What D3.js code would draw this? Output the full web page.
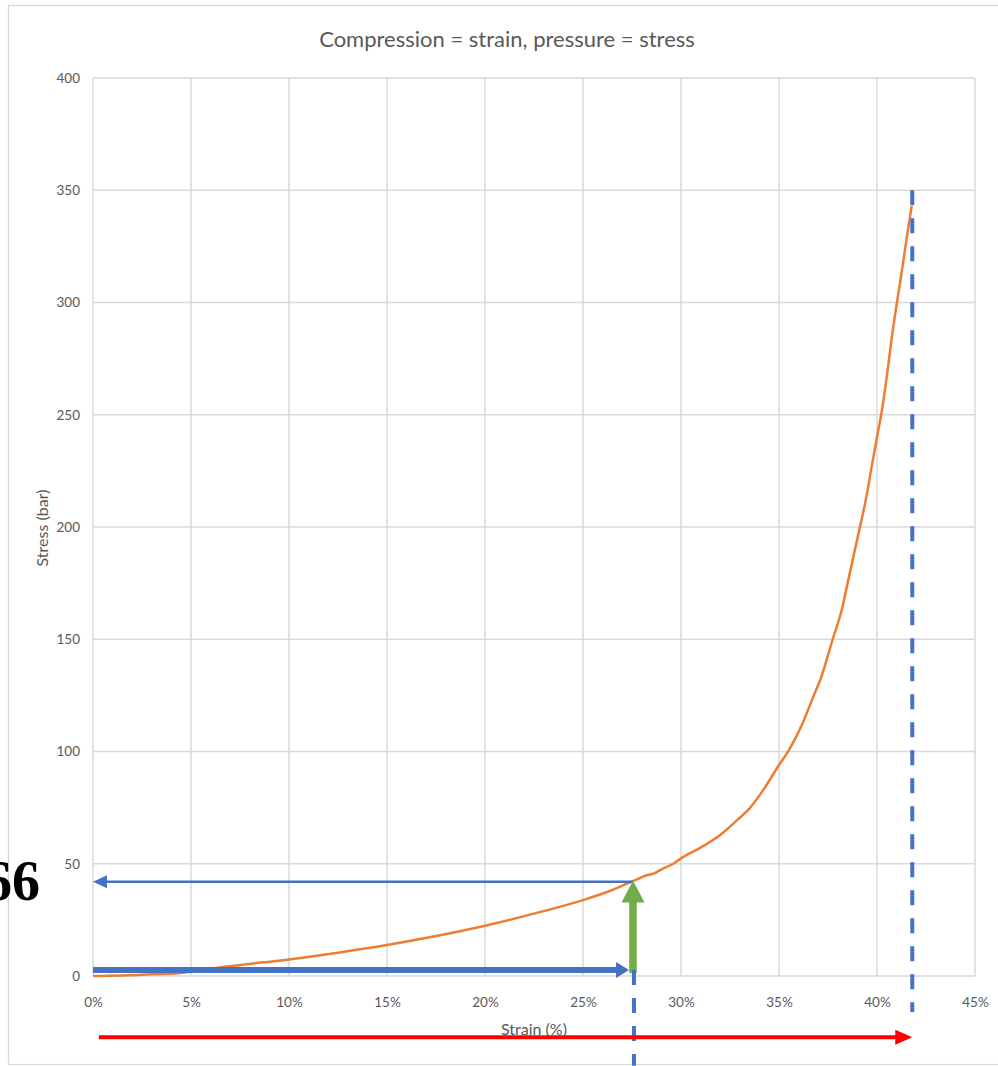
<!DOCTYPE html>
<html>
<head>
<meta charset="utf-8">
<script src="https://cdn.jsdelivr.net/npm/d3@7"></script>
<style>
  html, body { margin: 0; padding: 0; background: #fff; }
  svg { display: block; }
</style>
</head>
<body>
<svg id="chart" width="998" height="1066"></svg>
<script>
// ---------- data ----------
const titleText = "Compression = strain, pressure = stress";
const xAxisTitle = "Strain (%)";
const yAxisTitle = "Stress (bar)";
const sideLabel = "66";

const xTicks = [0, 5, 10, 15, 20, 25, 30, 35, 40, 45];
const yTicks = [0, 50, 100, 150, 200, 250, 300, 350, 400];

// curve: strain (%) and stress (bar)
const strain = [0, 2.5, 4.6, 6.8, 10, 12.5, 15, 17.5, 20, 22.5, 25, 26.5, 27.6, 28.3, 28.6, 29.0, 29.6, 30, 31, 32, 33, 33.5, 34.2, 35, 35.5, 36.2, 36.75, 37.13, 37.74, 38.2, 38.5, 38.8, 39.13, 39.45, 39.73, 40.0, 40.25, 40.5, 40.75, 41.0, 41.25, 41.52, 41.77];
const stress = [0, 0.6, 1.5, 4.2, 7.4, 10.4, 13.8, 17.8, 22.4, 27.8, 33.8, 38.3, 42.5, 45, 45.6, 47.5, 50, 52.4, 57.2, 62.8, 70.5, 74.7, 82.9, 94, 100.5, 112.5, 124.4, 132.5, 150, 163, 175, 187, 200, 213, 227, 240, 252, 267, 284, 299, 313, 329, 343];

// annotations (data units: strain %, stress bar)
const readStrain = 27.55;
const readStress = 42;
const thickArrowStress = 2.7;
const thickArrowEnd = 27.35;
const greenArrowFrom = 1.3;
const greenArrowTo = 42.5;
const dash1 = { x: 27.6, from: 2.7, to: -40 };
const dash2 = { x: 41.8, from: 350, to: -16 };
const redArrow = { y: -27.3, from: 0.3, to: 41.8 };

// ---------- drawing ----------
const svg = d3.select("#chart");
const x = d3.scaleLinear().domain([0, 45]).range([93, 975]);
const y = d3.scaleLinear().domain([0, 400]).range([976, 78]);

const grey = "#595959";
const gridCol = "#d9d9d9";
const fontFam = "Lato, 'Open Sans', sans-serif";

// chart area border
svg.append("rect")
  .attr("x", 8.5).attr("y", 5.5)
  .attr("width", 1000).attr("height", 1059)
  .attr("fill", "none").attr("stroke", gridCol).attr("stroke-width", 1.3);

// gridlines
svg.append("g").selectAll("line").data(yTicks).join("line")
  .attr("x1", x(0)).attr("x2", x(45))
  .attr("y1", d => y(d)).attr("y2", d => y(d))
  .attr("stroke", gridCol).attr("stroke-width", 1.5);
svg.append("g").selectAll("line").data(xTicks).join("line")
  .attr("x1", d => x(d)).attr("x2", d => x(d))
  .attr("y1", y(0)).attr("y2", y(400))
  .attr("stroke", gridCol).attr("stroke-width", 1.5);

// axes (labels only)
const yAxis = svg.append("g")
  .attr("transform", `translate(${x(0)},0)`)
  .call(d3.axisLeft(y).tickValues(yTicks).tickSize(0).tickPadding(13));
const xAxis = svg.append("g")
  .attr("transform", `translate(0,${y(0)})`)
  .call(d3.axisBottom(x).tickValues(xTicks).tickSize(0).tickPadding(21).tickFormat(d => d + "%"));
[yAxis, xAxis].forEach(g => {
  g.select(".domain").remove();
  g.selectAll("text").attr("fill", grey).attr("font-size", 13.5).attr("font-family", fontFam);
});

// title
svg.append("text")
  .attr("x", 507).attr("y", 46.5)
  .attr("text-anchor", "middle")
  .attr("fill", grey).attr("font-size", 22).attr("font-family", fontFam)
  .text(titleText);

// axis titles
svg.append("text")
  .attr("transform", `translate(48,528) rotate(-90)`)
  .attr("text-anchor", "middle")
  .attr("fill", grey).attr("font-size", 16).attr("font-family", fontFam)
  .text(yAxisTitle);
svg.append("text")
  .attr("x", 534).attr("y", 1035)
  .attr("text-anchor", "middle")
  .attr("fill", grey).attr("font-size", 16).attr("font-family", fontFam)
  .text(xAxisTitle);

// curve
const pts = strain.map((s, i) => [s, stress[i]]);
svg.append("path")
  .datum(pts)
  .attr("fill", "none")
  .attr("stroke", "#ed7d31")
  .attr("stroke-width", 2.5)
  .attr("d", d3.line().x(d => x(d[0])).y(d => y(d[1])).curve(d3.curveMonotoneX));

// arrow helper: shaft + triangular head
function arrow(x1, y1, x2, y2, color, width, headLen, headHalf) {
  const dx = x2 - x1, dy = y2 - y1;
  const len = Math.hypot(dx, dy);
  const ux = dx / len, uy = dy / len;
  const bx = x2 - ux * headLen, by = y2 - uy * headLen;
  svg.append("line")
    .attr("x1", x1).attr("y1", y1).attr("x2", bx + ux).attr("y2", by + uy)
    .attr("stroke", color).attr("stroke-width", width);
  const px = -uy, py = ux;
  svg.append("path")
    .attr("d", `M${x2},${y2}L${bx + px * headHalf},${by + py * headHalf}L${bx - px * headHalf},${by - py * headHalf}Z`)
    .attr("fill", color);
}

const blue = "#4472c4";
arrow(x(readStrain), y(readStress), x(0), y(readStress), blue, 2.5, 14, 6.5);
arrow(x(0), y(thickArrowStress), x(thickArrowEnd), y(thickArrowStress), blue, 6, 13, 8);
arrow(x(readStrain), y(greenArrowFrom), x(readStrain), y(greenArrowTo), "#70ad47", 7.5, 22, 11.5);

// dashed verticals
[dash1, dash2].forEach(d => {
  svg.append("line")
    .attr("x1", x(d.x)).attr("x2", x(d.x))
    .attr("y1", y(d.from)).attr("y2", y(d.to))
    .attr("stroke", blue).attr("stroke-width", 4)
    .attr("stroke-dasharray", "15,13");
});

// red arrow
arrow(x(redArrow.from), y(redArrow.y), x(redArrow.to), y(redArrow.y), "#ff0000", 4, 17, 7.5);

// side label (partly beyond the left edge, as in the reference)
svg.append("text")
  .attr("x", 40).attr("y", 900)
  .attr("text-anchor", "end")
  .attr("fill", "#000").attr("font-weight", "bold")
  .attr("font-size", 56).attr("font-family", "'Liberation Serif', 'DejaVu Serif', serif")
  .text(sideLabel);
</script>
</body>
</html>
